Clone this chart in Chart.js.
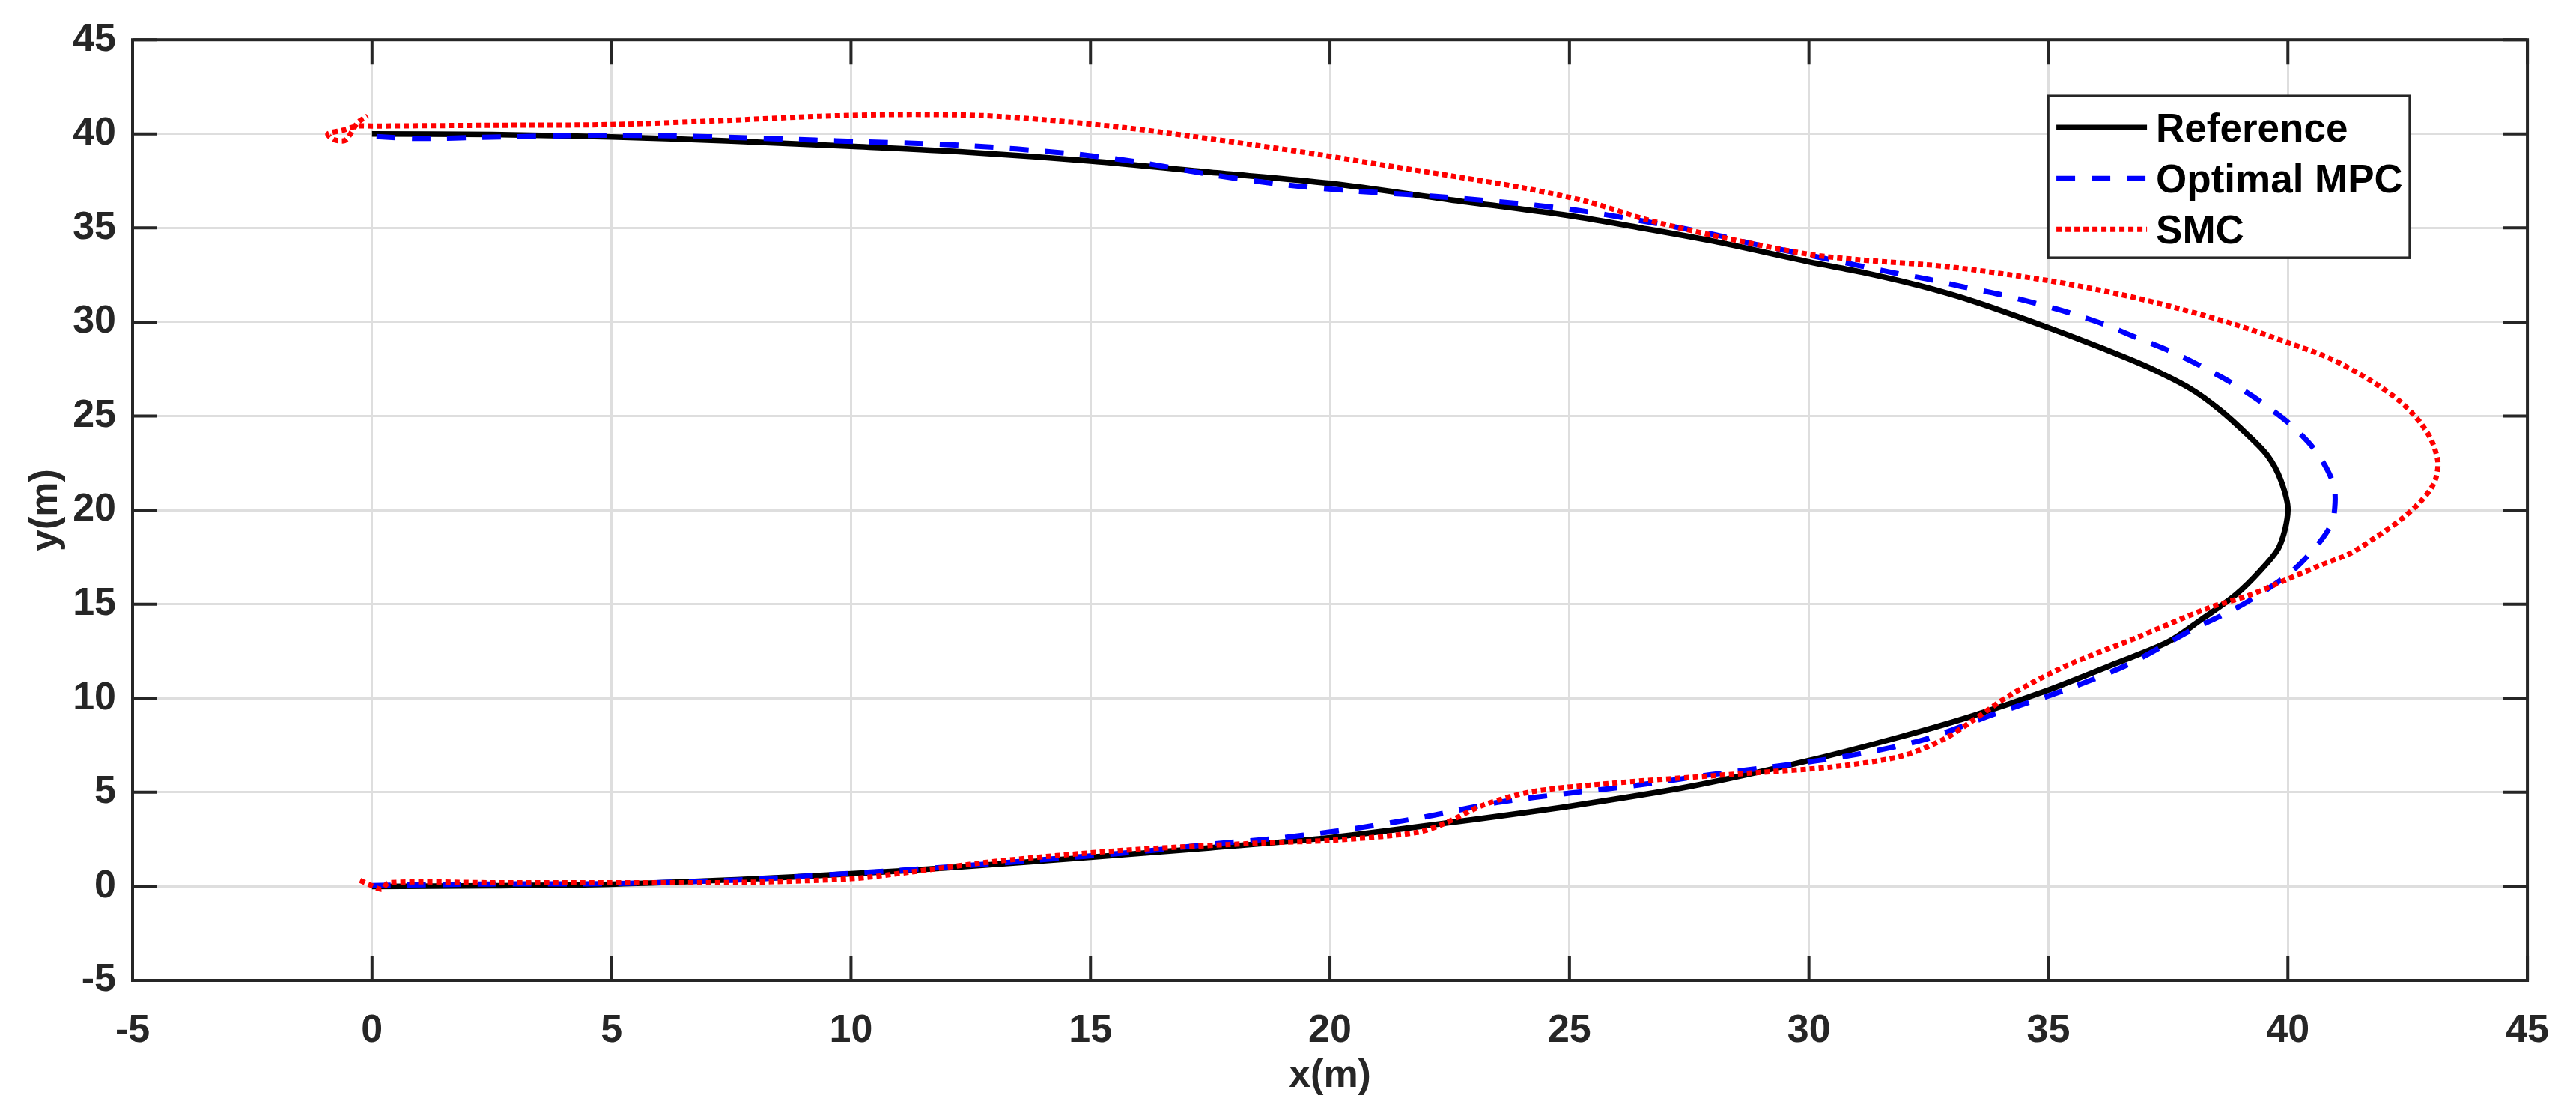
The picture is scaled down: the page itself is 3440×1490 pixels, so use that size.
<!DOCTYPE html>
<html>
<head>
<meta charset="utf-8">
<title>Trajectory tracking</title>
<script src="https://cdn.jsdelivr.net/npm/chart.js@4.4.1/dist/chart.umd.min.js"></script>
<style>
  html, body { margin: 0; padding: 0; background: #fff; }
  #wrap { width: 3440px; height: 1490px; }
</style>
</head>
<body>
<div id="wrap"><canvas id="trajChart" width="3440" height="1490"></canvas></div>
<script>
// axis ticks (same on both axes)
const tickValues = [-5, 0, 5, 10, 15, 20, 25, 30, 35, 40, 45];

// Reference path
const refX = [0, 2.5, 5, 7.6, 10, 12.2, 15, 17.5, 20, 22.6, 25, 27.5, 30, 31.9, 33.4, 35, 36.4, 37.5, 38.2, 38.9, 39.43, 39.82, 40,
  39.85, 39.58, 39.16, 38.57, 37.97, 37.08, 36.18, 35, 33.5, 32.3, 31.1, 30, 28, 26.5, 25, 22.5, 20, 17.5, 15, 12.5, 10, 7.5, 5, 2.5, 0];
const refY = [0, 0.04, 0.12, 0.36, 0.67, 1.02, 1.55, 2.05, 2.59, 3.42, 4.26, 5.3, 6.69, 7.94, 9.05, 10.44, 11.85, 13.0, 14.2, 15.48, 16.8, 18.06, 20,
  21.6, 22.88, 24.0, 25.35, 26.45, 27.6, 28.55, 29.7, 31.05, 31.94, 32.65, 33.2, 34.3, 35.0, 35.65, 36.5, 37.37, 37.96, 38.56, 39.02, 39.34, 39.62, 39.84, 39.97, 40];

// Optimal MPC
const mpcX = [0, 2.5, 5, 7.6, 9.2, 11.5, 13.8, 16, 17.5, 19, 20.5, 22, 23.5, 25, 26.4, 27.9, 29.4, 30.9, 32.4, 33.9, 35.35, 36.7, 38, 38.9,
  39.38, 40.05, 40.52, 40.83, 40.96, 40.96, 40.62, 40.12, 39.52, 38.9, 38.24, 37.55, 36.84, 36.15, 35.44, 34.7, 33.97, 33.2, 32.5, 31.7,
  30.2, 28.75, 28, 26.5, 25.05, 23.5, 22.1, 20.5, 19.05, 17.6, 16, 14.6, 12.3, 10.1, 9.26, 7.7, 6.3, 4.7, 2.5, 0.94, 0.05];
const mpcY = [0.05, 0.13, 0.15, 0.34, 0.57, 0.94, 1.38, 1.84, 2.24, 2.59, 3.07, 3.7, 4.46, 4.95, 5.37, 5.92, 6.41, 6.97, 7.8, 9.19, 10.44, 11.84, 13.64, 14.76,
  15.48, 16.67, 17.86, 18.9, 19.7, 21.3, 23.0, 24.4, 25.6, 26.65, 27.58, 28.44, 29.17, 29.89, 30.49, 31.02, 31.48, 31.88, 32.27, 32.65,
  33.45, 34.2, 34.66, 35.38, 35.98, 36.4, 36.7, 36.97, 37.3, 37.8, 38.5, 38.95, 39.4, 39.6, 39.67, 39.8, 39.9, 39.93, 39.83, 39.76, 39.87];

// SMC
const smcX = [-0.25, -0.05, 0.2, 0.35, 2.5, 5, 7.6, 10, 11.2, 12.7, 14.3, 16, 18.6, 20.05, 21.8, 22.4, 23.2, 24.2, 25.7, 27.5, 29, 30.45,
  31.9, 32.8, 33.4, 34.2, 35.35, 36.85, 38.3, 39.2, 40, 40.67, 41.3, 41.8, 42.33, 42.75, 43.0, 43.1, 43.13, 43.0, 42.75, 42.33,
  41.75, 40.9, 40.06, 38.87, 37.67, 36.48, 35, 32.9, 31.1, 30, 28, 26.6, 25.4, 24.1, 22.7, 21.25, 19.8, 18.4, 17.1, 15.7, 14.1, 12.7, 11,
  9.37, 7.5, 5, 2.5, 0, -0.3, -0.6, -0.92, -0.8, -0.57, -0.45, -0.3, -0.09];
const smcY = [0.32, 0.1, -0.15, 0.2, 0.2, 0.2, 0.21, 0.41, 0.75, 1.24, 1.64, 1.97, 2.31, 2.45, 2.86, 3.35, 4.32, 5.02, 5.44, 5.79, 6.06, 6.34,
  6.9, 7.8, 8.78, 10.17, 11.7, 13.23, 14.76, 15.48, 16.34, 17.06, 17.7, 18.5, 19.44, 20.4, 21.2, 21.8, 22.6, 23.7, 24.7, 25.8,
  26.85, 28.04, 28.85, 29.89, 30.75, 31.48, 32.2, 32.94, 33.3, 33.6, 34.6, 35.45, 36.38, 37.1, 37.7, 38.29, 38.89, 39.42, 39.88, 40.34, 40.74, 40.98, 41.03,
  40.94, 40.73, 40.5, 40.46, 40.42, 40.42, 40.2, 40.0, 39.7, 39.65, 40.0, 40.6, 40.95];

const toPoints = (xs, ys) => xs.map((x, i) => ({ x: x, y: ys[i] }));

const FONT = '"Liberation Sans", Arial, Helvetica, sans-serif';
const AXIS_COLOR = '#262626';

// MATLAB style box with inward ticks on all four sides
const matlabBox = {
  id: 'matlabBox',
  afterDatasetsDraw(chart) {
    const { ctx, chartArea: a, scales } = chart;
    const len = 33;
    ctx.save();
    ctx.strokeStyle = AXIS_COLOR;
    ctx.lineWidth = 4;
    ctx.beginPath();
    tickValues.forEach(v => {
      const px = scales.x.getPixelForValue(v);
      ctx.moveTo(px, a.bottom); ctx.lineTo(px, a.bottom - len);
      ctx.moveTo(px, a.top); ctx.lineTo(px, a.top + len);
      const py = scales.y.getPixelForValue(v);
      ctx.moveTo(a.left, py); ctx.lineTo(a.left + len, py);
      ctx.moveTo(a.right, py); ctx.lineTo(a.right - len, py);
    });
    ctx.stroke();
    ctx.strokeRect(a.left, a.top, a.right - a.left, a.bottom - a.top);
    ctx.restore();
  }
};

// legend box inside the plot, upper right
const boxLegend = {
  id: 'boxLegend',
  afterDraw(chart) {
    const { ctx, chartArea: a } = chart;
    const bx = a.right - 640, by = a.top + 75, bw = 483, bh = 216;
    ctx.save();
    ctx.fillStyle = '#fff';
    ctx.fillRect(bx, by, bw, bh);
    ctx.strokeStyle = AXIS_COLOR;
    ctx.lineWidth = 3.5;
    ctx.strokeRect(bx, by, bw, bh);
    ctx.font = 'bold 53px ' + FONT;
    ctx.textBaseline = 'alphabetic';
    chart.data.datasets.forEach((ds, i) => {
      const cy = by + 42 + i * 68;
      ctx.strokeStyle = ds.borderColor;
      ctx.lineWidth = ds.borderWidth;
      ctx.setLineDash(ds.borderDash || []);
      ctx.beginPath();
      ctx.moveTo(bx + 11, cy);
      ctx.lineTo(bx + 132, cy);
      ctx.stroke();
      ctx.setLineDash([]);
      ctx.fillStyle = '#000';
      ctx.fillText(ds.label, bx + 144, cy + 19);
    });
    ctx.restore();
  }
};

new Chart(document.getElementById('trajChart'), {
  type: 'scatter',
  data: {
    datasets: [
      { label: 'Reference', data: toPoints(refX, refY), showLine: true, borderColor: '#000000', borderWidth: 7.5,
        pointRadius: 0, tension: 0.3, order: 3 },
      { label: 'Optimal MPC', data: toPoints(mpcX, mpcY), showLine: true, borderColor: '#0000ff', borderWidth: 7,
        borderDash: [25, 22], pointRadius: 0, tension: 0.3, order: 2 },
      { label: 'SMC', data: toPoints(smcX, smcY), showLine: true, borderColor: '#ff0000', borderWidth: 7,
        borderDash: [7, 5], pointRadius: 0, tension: 0.3, order: 1 }
    ]
  },
  options: {
    responsive: false,
    animation: false,
    layout: { padding: { top: 49, right: 48, left: 0, bottom: 0 } },
    plugins: {
      legend: { display: false },
      tooltip: { enabled: false }
    },
    scales: {
      x: {
        type: 'linear',
        min: -5, max: 45,
        afterFit(scale) { scale.height = 181; },
        afterBuildTicks(scale) { scale.ticks = tickValues.map(v => ({ value: v })); },
        ticks: { autoSkip: false, maxRotation: 0, padding: 36, color: AXIS_COLOR, font: { family: FONT, size: 52, weight: 'bold' } },
        grid: { color: '#dedede', lineWidth: 3, drawTicks: false },
        border: { display: false },
        title: { display: true, text: 'x(m)', color: AXIS_COLOR, padding: { top: 0, bottom: 22 },
          font: { family: FONT, size: 52, weight: 'bold' } }
      },
      y: {
        type: 'linear',
        min: -5, max: 45,
        afterFit(scale) { scale.width = 177; },
        afterBuildTicks(scale) { scale.ticks = tickValues.map(v => ({ value: v })); },
        ticks: { autoSkip: false, padding: 22, color: AXIS_COLOR, font: { family: FONT, size: 52, weight: 'bold' } },
        grid: { color: '#dedede', lineWidth: 3, drawTicks: false },
        border: { display: false },
        title: { display: true, text: 'y(m)', color: AXIS_COLOR, padding: { top: 30, bottom: 0 },
          font: { family: FONT, size: 52, weight: 'bold' } }
      }
    }
  },
  plugins: [matlabBox, boxLegend]
});
</script>
</body>
</html>
